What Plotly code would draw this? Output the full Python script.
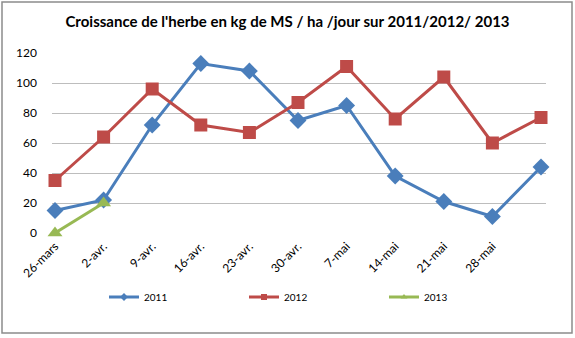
import plotly.graph_objects as go

categories = ["26-mars", "2-avr.", "9-avr.", "16-avr.", "23-avr.", "30-avr.",
              "7-mai", "14-mai", "21-mai", "28-mai", ""]
s2011 = [15, 22, 72, 113, 108, 75, 85, 38, 21, 11, 44]
s2012 = [35, 64, 96, 72, 67, 87, 111, 76, 104, 60, 77]
s2013 = [0, 20]
yticks = [0, 20, 40, 60, 80, 100, 120]

W, H = 575, 338
L, R, T, B = 52, 546, 53, 233
colors = {"2011": "#4A7EBB", "2012": "#BE4B48", "2013": "#98B954"}
symbols = {"2011": "diamond", "2012": "square", "2013": "triangle-up"}
sizes = {"2011": 13, "2012": 13, "2013": 13}
legend_x = {"2011": 104, "2012": 244, "2013": 384}

x_idx = list(range(len(categories)))
fig = go.Figure()
for name, vals in [("2011", s2011), ("2012", s2012), ("2013", s2013)]:
    fig.add_trace(go.Scatter(
        x=x_idx[:len(vals)], y=vals, mode="lines+markers", name=name,
        line=dict(color=colors[name], width=3),
        marker=dict(symbol=symbols[name], size=sizes[name], color=colors[name]),
        cliponaxis=False, showlegend=False))
legends = {}
for i, name in enumerate(["2011", "2012", "2013"]):
    lg = "legend" if i == 0 else f"legend{i+1}"
    fig.add_trace(go.Scatter(
        x=[None], y=[None], mode="lines+markers", name=name,
        line=dict(color=colors[name], width=3),
        marker=dict(symbol=symbols[name], size=6, color=colors[name]),
        showlegend=True, legend=lg))
    legends[lg] = dict(orientation="h", xref="container", yref="container",
                       x=legend_x[name] / W, xanchor="left",
                       y=1 - 297 / H, yanchor="middle",
                       font=dict(family="Lato", size=10, color="black"),
                       itemwidth=30, bgcolor="rgba(0,0,0,0)")

px_per = (541 - 55) / 10
xr = [-(55 - L) / px_per, 10 + (R - 541) / px_per]

fig.update_layout(
    width=W, height=H,
    margin=dict(l=L, r=W - R, t=T, b=H - B),
    paper_bgcolor="white", plot_bgcolor="white",
    title=dict(text="<b>Croissance de l'herbe en kg de MS / ha /jour sur 2011/2012/ 2013</b>",
               x=0.5, xanchor="center", xref="container",
               y=1 - 22 / H, yanchor="middle", yref="container",
               font=dict(family="Lato", size=15, color="black")),
    xaxis=dict(range=xr, tickmode="array", tickvals=x_idx, ticktext=categories,
               tickangle=-45, showgrid=False, zeroline=False, showline=False,
               ticks="", automargin=False,
               tickfont=dict(family="Lato", size=12, color="black"),
               ticklabelstandoff=3),
    yaxis=dict(range=[0, 120], tickvals=yticks, showgrid=True, gridcolor="#BDBDBD",
               gridwidth=1, zeroline=False, showline=False, ticks="",
               automargin=False,
               tickfont=dict(family="Lato", size=12, color="black"),
               ticklabelstandoff=14),
    shapes=[dict(type="rect", xref="paper", yref="paper",
                 x0=(2 - L) / (R - L), x1=(572 - L) / (R - L),
                 y0=(B - 333) / (B - T), y1=(B - 2) / (B - T),
                 line=dict(color="#8C8C8C", width=1.5), layer="below")],
    **legends,
)
fig.write_html("out.html")
